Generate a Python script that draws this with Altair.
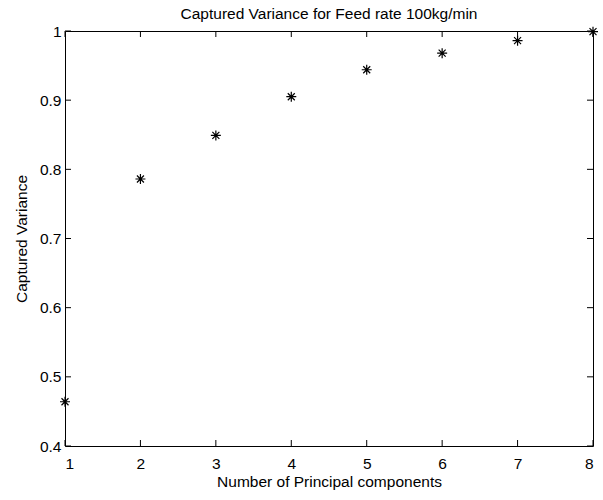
import altair as alt
import pandas as pd

components = [1, 2, 3, 4, 5, 6, 7, 8]
captured = [0.464, 0.786, 0.849, 0.905, 0.944, 0.968, 0.986, 0.999]
x_ticks = [1, 2, 3, 4, 5, 6, 7, 8]
y_ticks = [0.4, 0.5, 0.6, 0.7, 0.8, 0.9, 1.0]

df = pd.DataFrame({"pc": components, "var": captured})
xt = pd.DataFrame({"t": x_ticks})
yt = pd.DataFrame({"t": y_ticks})

FONT = "Liberation Sans"
FS = 15.5
W, H, TICK = 528, 415, 6
ASTERISK = "M -1 0 L 1 0 M 0 -1 L 0 1 M -0.7 -0.7 L 0.7 0.7 M -0.7 0.7 L 0.7 -0.7"

xscale = alt.Scale(domain=[1, 8], nice=False, zero=False)
yscale = alt.Scale(domain=[0.4, 1.0], nice=False, zero=False)

common = dict(domain=False, ticks=False, grid=False, labelFont=FONT,
              labelFontSize=FS, labelColor="black", titleFont=FONT,
              titleFontSize=FS, titleFontWeight="normal", titleColor="black")

points = alt.Chart(df).mark_point(
    shape=ASTERISK, size=100, filled=False, color="black",
    strokeWidth=1.2, opacity=1, clip=False
).encode(
    x=alt.X("pc:Q", scale=xscale,
            axis=alt.Axis(values=x_ticks, format="d", orient="bottom",
                          title="Number of Principal components",
                          labelPadding=10, titlePadding=3, **common)),
    y=alt.Y("var:Q", scale=yscale,
            axis=alt.Axis(values=y_ticks, format="~g", orient="left",
                          title="Captured Variance",
                          labelPadding=4, titlePadding=10, **common)),
)

rule = dict(color="black", strokeWidth=1, opacity=1)
bottom_ticks = alt.Chart(xt).mark_rule(**rule).encode(
    x=alt.X("t:Q", scale=xscale), y=alt.value(H), y2=alt.value(H - TICK))
top_ticks = alt.Chart(xt).mark_rule(**rule).encode(
    x=alt.X("t:Q", scale=xscale), y=alt.value(0), y2=alt.value(TICK))
left_ticks = alt.Chart(yt).mark_rule(**rule).encode(
    y=alt.Y("t:Q", scale=yscale), x=alt.value(0), x2=alt.value(TICK))
right_ticks = alt.Chart(yt).mark_rule(**rule).encode(
    y=alt.Y("t:Q", scale=yscale), x=alt.value(W), x2=alt.value(W - TICK))

chart = alt.layer(
    bottom_ticks, top_ticks, left_ticks, right_ticks, points
).properties(
    width=W, height=H,
    title=alt.Title("Captured Variance for Feed rate 100kg/min",
                    font=FONT, fontSize=FS, fontWeight="normal",
                    color="black", anchor="middle", frame="group",
                    offset=2),
    autosize=alt.AutoSizeParams(type="none"),
    padding={"left": 65, "top": 31, "right": 10, "bottom": 54},
).configure_view(stroke="black", strokeWidth=1)

chart.save("out.html", embed_options={"renderer": "svg", "actions": False})
